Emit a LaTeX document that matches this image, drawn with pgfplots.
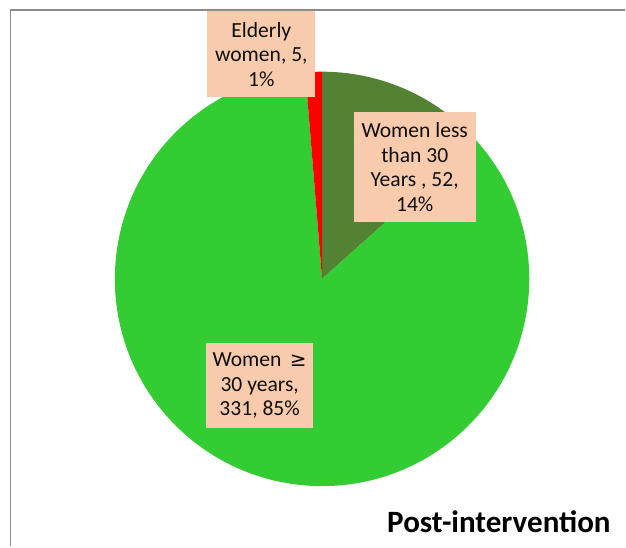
\documentclass[border=0pt]{standalone}
\usepackage{pgfplots}
\pgfplotsset{compat=1.18}
\usepackage{pgfplotstable}
\usepackage{fontspec}
\setmainfont{Carlito}
\newfontfamily\symfont{DejaVu Sans}

\definecolor{youngcol}{RGB}{84,130,53}
\definecolor{adultcol}{RGB}{51,204,51}
\definecolor{eldercol}{RGB}{255,0,0}
\definecolor{labelfill}{RGB}{248,203,173}
\definecolor{framecol}{RGB}{140,140,140}
\definecolor{textcol}{RGB}{15,15,15}

% Post-intervention counts, in the order the slices run clockwise from 12 o'clock
\pgfplotstableread{
group   value
young   52
adult   331
elderly 5
}\piedata

\begin{document}
\begin{tikzpicture}
\pgfplotstablegetelem{0}{value}\of\piedata \let\vA\pgfplotsretval
\pgfplotstablegetelem{1}{value}\of\piedata \let\vB\pgfplotsretval
\pgfplotstablegetelem{2}{value}\of\piedata \let\vC\pgfplotsretval
\pgfmathsetmacro\total{\vA+\vB+\vC}
\pgfmathsetmacro\aS{90}
\pgfmathsetmacro\aA{\aS-360*(\vA/\total)}
\pgfmathsetmacro\aB{\aA-360*(\vB/\total)}
\pgfmathsetmacro\aC{\aB-360*(\vC/\total)}
\def\R{155.625pt}
\begin{axis}[
  x=0.75pt, y=0.75pt,
  xmin=0, xmax=626, ymin=0, ymax=547,
  hide axis, clip=false,
]
\path (axis cs:0,0) rectangle (axis cs:626,547);
% chart frame (left and top edges)
\draw[framecol, line width=1.3pt] (axis cs:10.5,0) -- (axis cs:10.5,537) -- (axis cs:626,537);

% slices
\fill[youngcol] (axis cs:322.5,267.7) -- ++(\aS:\R) arc[start angle=\aS, end angle=\aA, radius=\R] -- cycle;
\fill[adultcol] (axis cs:322.5,267.7) -- ++(\aA:\R) arc[start angle=\aA, end angle=\aB, radius=\R] -- cycle;
\fill[eldercol] (axis cs:322.5,267.7) -- ++(\aB:\R) arc[start angle=\aB, end angle=\aC, radius=\R] -- cycle;

% data labels
\tikzset{lbl/.style={fill=labelfill, text=textcol, align=center, inner sep=0pt,
  font=\fontsize{16.2}{18.5}\selectfont, anchor=center}}
\node[lbl, minimum width=81pt, minimum height=64.5pt] at (axis cs:261.7,492.5)
  {Elderly\\women, 5,\\1\%};
\node[lbl, minimum width=91.5pt, minimum height=83.3pt] at (axis cs:415.3,379.8)
  {Women less\\than 30\\Years , 52,\\14\%};
\node[lbl, minimum width=80pt, minimum height=64.3pt] at (axis cs:260,160.8)
  {Women \,{\symfont\fontsize{15}{18.5}\selectfont ≥}\\30 years,\\331, 85\%};

% title
\node[anchor=base east, inner sep=0pt, text=black, font=\fontsize{23.3}{28}\selectfont\bfseries]
  at (axis cs:611.7,14) {Post-intervention};
\end{axis}
\end{tikzpicture}
\end{document}
